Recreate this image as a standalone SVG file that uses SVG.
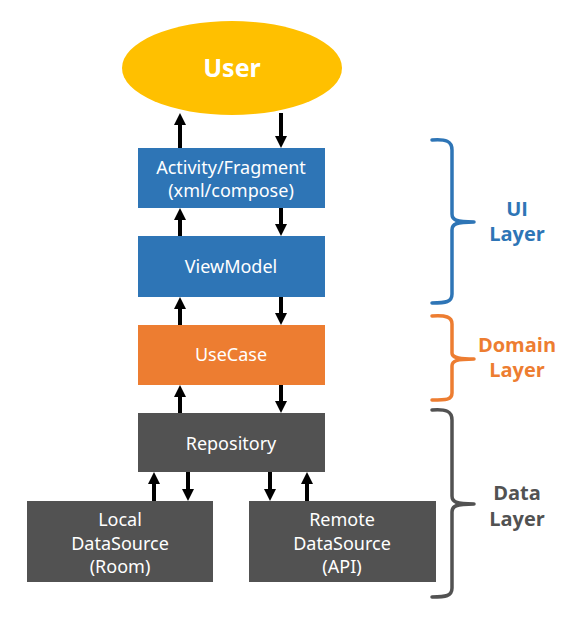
<svg xmlns="http://www.w3.org/2000/svg" width="570" height="617" viewBox="0 0 570 617">
<defs>
<marker id="ah" markerWidth="3" markerHeight="3" refX="1.5" refY="1.5" orient="auto" markerUnits="strokeWidth" viewBox="0 0 3 3">
<path d="M0,0 L3,1.5 L0,3 Z" fill="#000"/>
</marker>
<style>
.node text{font-family:"Noto Sans","Open Sans","Liberation Sans",sans-serif;font-size:18px;fill:#fff;text-anchor:middle}
.conn line{stroke:#000;stroke-width:4;marker-end:url(#ah)}
.brace{fill:none;stroke-width:3.5;stroke-linecap:round;stroke-linejoin:round}
.lbl{font-family:"Open Sans","Noto Sans","Liberation Sans",sans-serif;font-size:20px;font-weight:bold;text-anchor:middle}
</style>
</defs>
<rect width="570" height="617" fill="#fff"/>
<g id="user" class="node">
<ellipse cx="232" cy="68" rx="110" ry="47" fill="#FFC000"/>
<text x="232" y="77" style="font-size:25px;font-weight:bold">User</text>
</g>
<g id="activity" class="node">
<rect x="138" y="148" width="187" height="60" fill="#2E75B6"/>
<text x="231" y="174">Activity/Fragment</text>
<text x="231" y="197">(xml/compose)</text>
</g>
<g id="viewmodel" class="node">
<rect x="138" y="236" width="187" height="61" fill="#2E75B6"/>
<text x="231" y="273">ViewModel</text>
</g>
<g id="usecase" class="node">
<rect x="138" y="325" width="187" height="60" fill="#ED7D31"/>
<text x="231" y="361">UseCase</text>
</g>
<g id="repository" class="node">
<rect x="138" y="413" width="187" height="59" fill="#525252"/>
<text x="231" y="450">Repository</text>
</g>
<g id="local" class="node">
<rect x="27" y="501" width="186" height="81" fill="#525252"/>
<text x="120" y="526">Local</text>
<text x="120" y="550">DataSource</text>
<text x="120" y="573">(Room)</text>
</g>
<g id="remote" class="node">
<rect x="249" y="501" width="187" height="81" fill="#525252"/>
<text x="342" y="526">Remote</text>
<text x="342" y="550">DataSource</text>
<text x="342" y="573">(API)</text>
</g>
<g id="connectors" class="conn">
<line x1="180" y1="148" x2="180" y2="119"/>
<line x1="281" y1="113" x2="281" y2="142"/>
<line x1="180" y1="236" x2="180" y2="214"/>
<line x1="281" y1="208" x2="281" y2="230"/>
<line x1="180" y1="325" x2="180" y2="303"/>
<line x1="281" y1="297" x2="281" y2="319"/>
<line x1="180" y1="413" x2="180" y2="391"/>
<line x1="281" y1="385" x2="281" y2="407"/>
<line x1="154" y1="501" x2="154" y2="478"/>
<line x1="188" y1="472" x2="188" y2="495"/>
<line x1="270" y1="472" x2="270" y2="495"/>
<line x1="307" y1="501" x2="307" y2="478"/>
</g>
<g id="ui-layer">
<path class="brace" stroke="#2E75B6" d="M432,140 C446,139 452,141 452,150 L452,214 C452,220 456,222 474,222 M474,222 C456,222 452,224 452,230 L452,294 C452,302 446,303 432,303"/>
<text class="lbl" fill="#2E75B6" x="517" y="216">UI</text>
<text class="lbl" fill="#2E75B6" x="517" y="241">Layer</text>
</g>
<g id="domain-layer">
<path class="brace" stroke="#ED7D31" d="M432,316 C446,315 452,317 452,324 L452,353 C452,357 456,359 474,359 M474,359 C456,359 452,361 452,366 L452,393 C452,400 446,400 432,400"/>
<text class="lbl" fill="#ED7D31" x="517" y="352">Domain</text>
<text class="lbl" fill="#ED7D31" x="517" y="377">Layer</text>
</g>
<g id="data-layer">
<path class="brace" stroke="#525252" d="M432,410 C446,409 452,411 452,420 L452,496 C452,502 456,504 474,504 M474,504 C456,504 452,506 452,512 L452,588 C452,596 446,597 432,597"/>
<text class="lbl" fill="#525252" x="517" y="500">Data</text>
<text class="lbl" fill="#525252" x="517" y="526">Layer</text>
</g>
</svg>
